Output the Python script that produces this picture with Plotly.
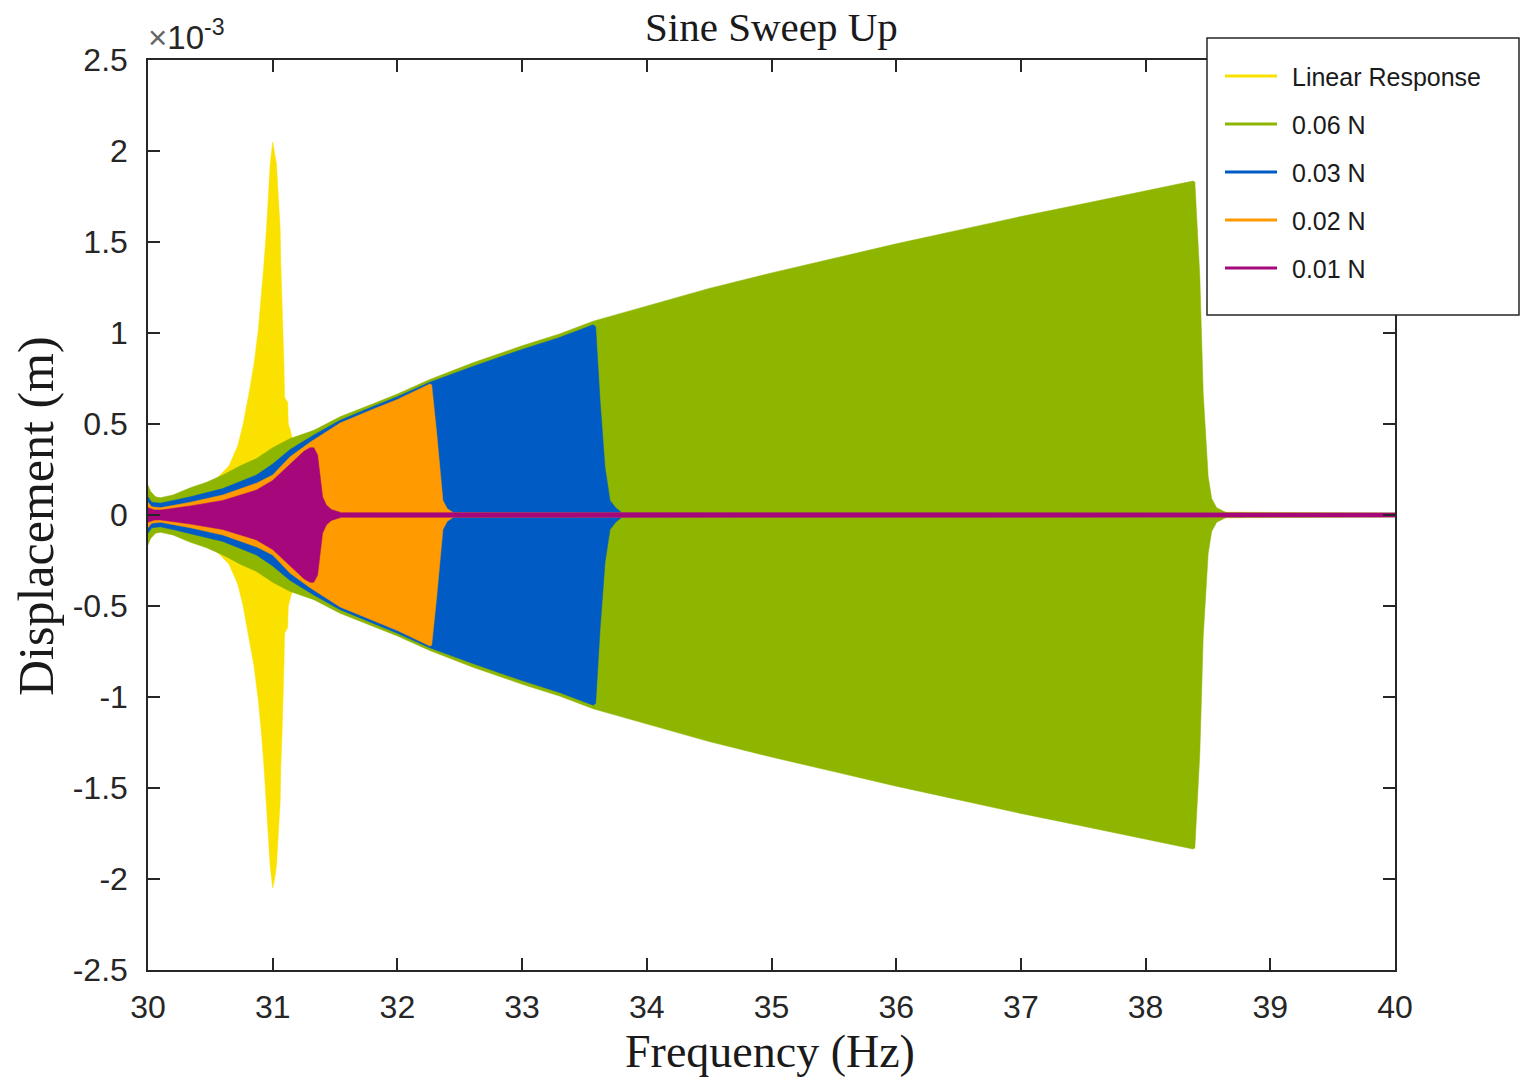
import numpy as np
import plotly.graph_objects as go

# Response envelopes (peak displacement, units of 1e-3 m) versus sweep frequency (Hz)
linear_freq = [30.00, 30.05, 30.20, 30.40, 30.55, 30.65, 30.72, 30.76, 30.805, 30.85,
               30.885, 30.91, 30.93, 30.95, 30.965, 30.98, 31.00, 31.015, 31.03, 31.045,
               31.06, 31.065, 31.075, 31.085, 31.09, 31.095, 31.10, 31.12, 31.125, 31.14,
               31.16, 31.20, 31.40, 32.00, 33.00, 40.00]
linear_amp = [0.12, 0.08, 0.09, 0.14, 0.20, 0.27, 0.38, 0.49, 0.65, 0.83,
              1.02, 1.20, 1.38, 1.57, 1.75, 1.93, 2.05, 2.00, 1.93, 1.75,
              1.57, 1.38, 1.20, 1.02, 0.83, 0.65, 0.64, 0.62, 0.50, 0.47,
              0.41, 0.36, 0.20, 0.08, 0.04, 0.01]

f006_freq = [30.00, 30.02, 30.06, 30.10, 30.20, 30.34, 30.47, 30.60, 30.74, 30.87,
             31.00, 31.14, 31.33, 31.54, 31.80, 32.00, 32.26, 32.60, 33.00, 33.30,
             33.57, 33.95, 34.50, 35.00, 35.50, 36.00, 36.50, 37.00, 37.50, 38.00,
             38.38, 38.395, 38.435, 38.462, 38.502, 38.53, 38.57, 38.65, 40.00]
f006_amp = [0.165, 0.13, 0.10, 0.095, 0.11, 0.15, 0.18, 0.22, 0.27, 0.31,
            0.37, 0.42, 0.465, 0.54, 0.61, 0.665, 0.745, 0.835, 0.93, 0.995,
            1.065, 1.14, 1.245, 1.33, 1.41, 1.49, 1.565, 1.64, 1.71, 1.78,
            1.835, 1.83, 1.31, 0.67, 0.21, 0.09, 0.04, 0.012, 0.01]

f003_freq = [30.00, 30.03, 30.10, 30.20, 30.34, 30.60, 30.87, 31.00, 31.14, 31.33,
             31.54, 31.80, 32.00, 32.26, 32.60, 33.00, 33.30, 33.57, 33.59, 33.625,
             33.665, 33.705, 33.75, 33.80, 40.00]
f003_amp = [0.10, 0.07, 0.065, 0.08, 0.10, 0.145, 0.22, 0.28, 0.36, 0.44,
            0.52, 0.595, 0.65, 0.73, 0.815, 0.91, 0.975, 1.045, 1.035, 0.63,
            0.26, 0.08, 0.04, 0.012, 0.01]

f002_freq = [30.00, 30.03, 30.10, 30.34, 30.60, 30.87, 31.00, 31.14, 31.30, 31.54,
             31.80, 32.00, 32.26, 32.275, 32.315, 32.35, 32.365, 32.40, 32.45, 40.00]
f002_amp = [0.07, 0.045, 0.04, 0.07, 0.11, 0.175, 0.22, 0.32, 0.40, 0.505,
            0.58, 0.635, 0.72, 0.715, 0.45, 0.20, 0.08, 0.035, 0.012, 0.01]

f001_freq = [30.00, 30.05, 30.10, 30.34, 30.60, 30.87, 31.00, 31.14, 31.25, 31.30,
             31.33, 31.36, 31.38, 31.40, 31.43, 31.47, 31.55, 40.00]
f001_amp = [0.04, 0.028, 0.027, 0.05, 0.08, 0.137, 0.19, 0.28, 0.35, 0.37,
            0.37, 0.33, 0.22, 0.10, 0.055, 0.03, 0.013, 0.011]

series_names = ["Linear Response", "0.06 N", "0.03 N", "0.02 N", "0.01 N"]
series_colors = ["#FAE100", "#8EB500", "#005BC4", "#FF9A00", "#A6077A"]
series_freq = [linear_freq, f006_freq, f003_freq, f002_freq, f001_freq]
series_amp = [linear_amp, f006_amp, f003_amp, f002_amp, f001_amp]

y_ticks = [-2.5, -2, -1.5, -1, -0.5, 0, 0.5, 1, 1.5, 2, 2.5]
y_tick_text = ["-2.5", "-2", "-1.5", "-1", "-0.5", "0", "0.5", "1", "1.5", "2", "2.5"]
x_ticks = [30, 31, 32, 33, 34, 35, 36, 37, 38, 39, 40]

W, H = 1523, 1079
L, R, T, B = 148, 1395, 60, 970  # plot-area pixel edges


def px(xp):
    return (xp - L) / (R - L)


def py(yp):
    return (B - yp) / (B - T)


fig = go.Figure()

# Each sweep is shown as the band swept out by its oscillation: +envelope then -envelope
for name, color, f, a in zip(series_names, series_colors, series_freq, series_amp):
    f = np.asarray(f, dtype=float)
    a = np.asarray(a, dtype=float)
    xs = np.concatenate([f, f[::-1]])
    ys = np.concatenate([a, -a[::-1]])
    fig.add_trace(go.Scatter(
        x=xs, y=ys, mode="lines", fill="toself", fillcolor=color,
        line=dict(color=color, width=0.5), name=name, showlegend=False,
        hoverinfo="skip",
    ))

axis_color = "#262626"
tick_font = dict(family="Liberation Sans, Arial, sans-serif", size=32, color=axis_color)

fig.update_xaxes(
    range=[30, 40], tickvals=x_ticks, ticktext=[str(v) for v in x_ticks],
    showgrid=False, zeroline=False, showline=True, linecolor=axis_color, linewidth=1.5,
    mirror="ticks", ticks="inside", ticklen=12, tickwidth=1.5, tickcolor=axis_color,
    tickfont=tick_font, ticklabelstandoff=8,
)
fig.update_yaxes(
    range=[-2.5, 2.5], tickvals=y_ticks, ticktext=y_tick_text,
    showgrid=False, zeroline=False, showline=True, linecolor=axis_color, linewidth=1.5,
    mirror="ticks", ticks="inside", ticklen=12, tickwidth=1.5, tickcolor=axis_color,
    tickfont=tick_font, ticklabelstandoff=12,
)

serif = "Liberation Serif, Times New Roman, serif"
annotations = [
    dict(text="Sine Sweep Up", x=px(771), y=py(27), xref="paper", yref="paper",
         showarrow=False, xanchor="center", yanchor="middle",
         font=dict(family=serif, size=41, color="#1a1a1a")),
    dict(text="Frequency (Hz)", x=px(770), y=py(1051), xref="paper", yref="paper",
         showarrow=False, xanchor="center", yanchor="middle",
         font=dict(family=serif, size=46, color="#1a1a1a")),
    dict(text="Displacement (m)", x=px(36), y=py(516), xref="paper", yref="paper",
         showarrow=False, xanchor="center", yanchor="middle", textangle=-90,
         font=dict(family=serif, size=50, color="#1a1a1a")),
    dict(text="<span style='color:#666666'>×</span>10<sup>-3</sup>", x=px(146), y=py(58),
         xref="paper", yref="paper", showarrow=False, xanchor="left", yanchor="bottom",
         font=dict(family="Liberation Sans, Arial, sans-serif", size=33, color=axis_color)),
]

# Legend: white framed box with a line sample per series
shapes = [dict(type="rect", xref="paper", yref="paper",
               x0=px(1207), x1=px(1519), y0=py(315), y1=py(38),
               fillcolor="white", line=dict(color=axis_color, width=1.5), layer="above")]
row_y = [76, 124, 172, 220, 268]
for name, color, yy in zip(series_names, series_colors, row_y):
    shapes.append(dict(type="line", xref="paper", yref="paper",
                       x0=px(1225), x1=px(1277), y0=py(yy), y1=py(yy),
                       line=dict(color=color, width=3), layer="above"))
    annotations.append(dict(text=name, x=px(1290), y=py(yy + 1), xref="paper", yref="paper",
                            showarrow=False, xanchor="left", yanchor="middle",
                            font=dict(family="Liberation Sans, Arial, sans-serif",
                                      size=25, color="#1a1a1a")))

fig.update_layout(
    width=W, height=H,
    margin=dict(l=L, r=W - R, t=T, b=H - B, pad=0),
    plot_bgcolor="white", paper_bgcolor="white",
    showlegend=False,
    annotations=annotations, shapes=shapes,
)

fig.write_html("out.html")
